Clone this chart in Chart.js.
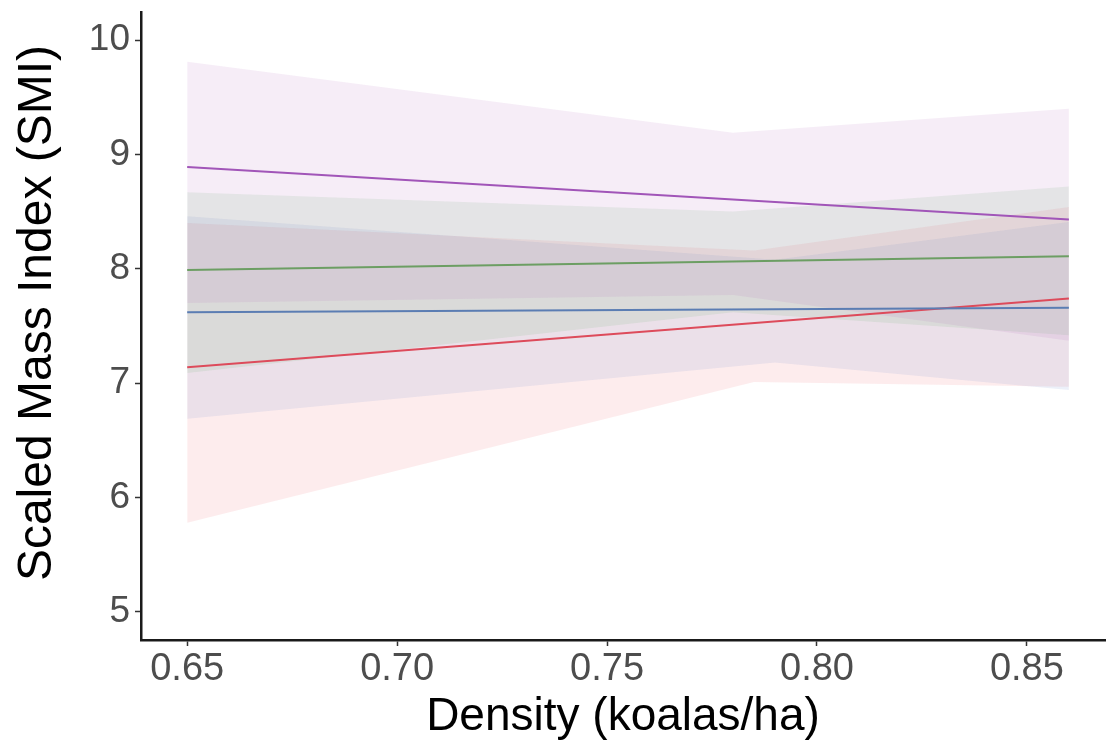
<!DOCTYPE html>
<html>
<head>
<meta charset="utf-8">
<script src="https://cdn.jsdelivr.net/npm/chart.js@4.4.1/dist/chart.umd.min.js"></script>
<style>
  body { margin: 0; background: #fff; }
  #wrap { width: 1107px; height: 743px; }
</style>
</head>
<body>
<div id="wrap"><canvas id="smiChart"></canvas></div>
<script>
// tick labels
const xTicks = [0.65, 0.70, 0.75, 0.80, 0.85];
const yTicks = [5, 6, 7, 8, 9, 10];

// fitted lines (ends of the density range)
const lineX = [0.65, 0.86];
const purpleLine = [8.89, 8.43];
const greenLine = [7.99, 8.11];
const blueLine = [7.62, 7.66];
const redLine = [7.14, 7.74];

// confidence ribbons
const purpleX = [0.65, 0.78, 0.86];
const purpleUpper = [9.81, 9.19, 9.40];
const purpleLower = [7.70, 7.77, 7.37];

const greenX = [0.65, 0.78, 0.86];
const greenUpper = [8.67, 8.50, 8.72];
const greenLower = [7.09, 7.62, 7.42];

const blueX = [0.65, 0.79, 0.86];
const blueUpper = [8.46, 8.08, 8.41];
const blueLower = [6.69, 7.18, 6.94];

const redX = [0.65, 0.785, 0.86];
const redUpper = [8.40, 8.16, 8.54];
const redLower = [5.78, 7.01, 6.97];

const FONT = "'Liberation Sans', Arial, sans-serif";

const pts = (xs, ys) => xs.map((x, i) => ({ x: x, y: ys[i] }));

function ribbon(xs, upper, lower, fillColor) {
    return [
        { data: pts(xs, upper), fill: '+1', backgroundColor: fillColor, borderWidth: 0, pointRadius: 0, order: 2 },
        { data: pts(xs, lower), fill: false, borderWidth: 0, pointRadius: 0, order: 2 }
    ];
}

function fitLine(ys, color) {
    return { data: pts(lineX, ys), fill: false, borderColor: color, borderWidth: 2, pointRadius: 0, order: 0 };
}

const datasets = [
    ...ribbon(purpleX, purpleUpper, purpleLower, 'rgba(170, 90, 185, 0.11)'),
    ...ribbon(greenX, greenUpper, greenLower, 'rgba(90, 175, 95, 0.12)'),
    ...ribbon(blueX, blueUpper, blueLower, 'rgba(80, 120, 200, 0.11)'),
    ...ribbon(redX, redUpper, redLower, 'rgba(235, 80, 95, 0.11)'),
    fitLine(purpleLine, '#a155b8'),
    fitLine(greenLine, '#6c9e63'),
    fitLine(blueLine, '#5b7db3'),
    fitLine(redLine, '#dd4b5b')
];

// y title drawn by hand so it can sit where the original has it
const yTitle = {
    id: 'yTitle',
    afterDraw(chart) {
        const c = chart.ctx;
        c.save();
        c.translate(38, 313);
        c.rotate(-Math.PI / 2);
        c.font = '48px ' + FONT;
        c.fillStyle = '#000';
        c.textAlign = 'center';
        c.textBaseline = 'middle';
        c.fillText('Scaled Mass Index (SMI)', 0, 0);
        c.restore();
    }
};

const ctx = document.getElementById('smiChart');
new Chart(ctx, {
    type: 'line',
    data: { datasets: datasets },
    plugins: [yTitle],
    options: {
        responsive: true, maintainAspectRatio: false, animation: false,
        layout: { padding: { top: 12, right: 2, left: 0, bottom: 0 } },
        plugins: { legend: { display: false }, tooltip: { enabled: false } },
        scales: {
            x: {
                type: 'linear', min: 0.639, max: 0.8686,
                afterFit: s => { s.height = 103; s.paddingLeft = 0; s.paddingRight = 0; },
                afterBuildTicks: s => { s.ticks = xTicks.map(v => ({ value: v })); },
                ticks: {
                    color: '#4d4d4d', padding: 1,
                    font: { family: FONT, size: 38 },
                    callback: v => v.toFixed(2)
                },
                grid: { display: true, drawOnChartArea: false, drawTicks: true, tickLength: 6, tickColor: '#333', tickWidth: 1.5 },
                border: { display: true, color: '#1a1a1a', width: 2.5 },
                title: {
                    display: true, text: 'Density (koalas/ha)', color: '#000',
                    font: { family: FONT, size: 46, lineHeight: 1.1 },
                    padding: { top: 0, bottom: 0 }
                }
            },
            y: {
                min: 4.755, max: 10.245,
                afterFit: s => { s.width = 141; s.paddingTop = 0; s.paddingBottom = 0; },
                afterBuildTicks: s => { s.ticks = yTicks.map(v => ({ value: v })); },
                ticks: {
                    color: '#4d4d4d', padding: 5,
                    font: { family: FONT, size: 37 }
                },
                grid: { display: true, drawOnChartArea: false, drawTicks: true, tickLength: 6, tickColor: '#333', tickWidth: 1.5 },
                border: { display: true, color: '#1a1a1a', width: 2.5 }
            }
        }
    }
});
</script>
</body>
</html>
